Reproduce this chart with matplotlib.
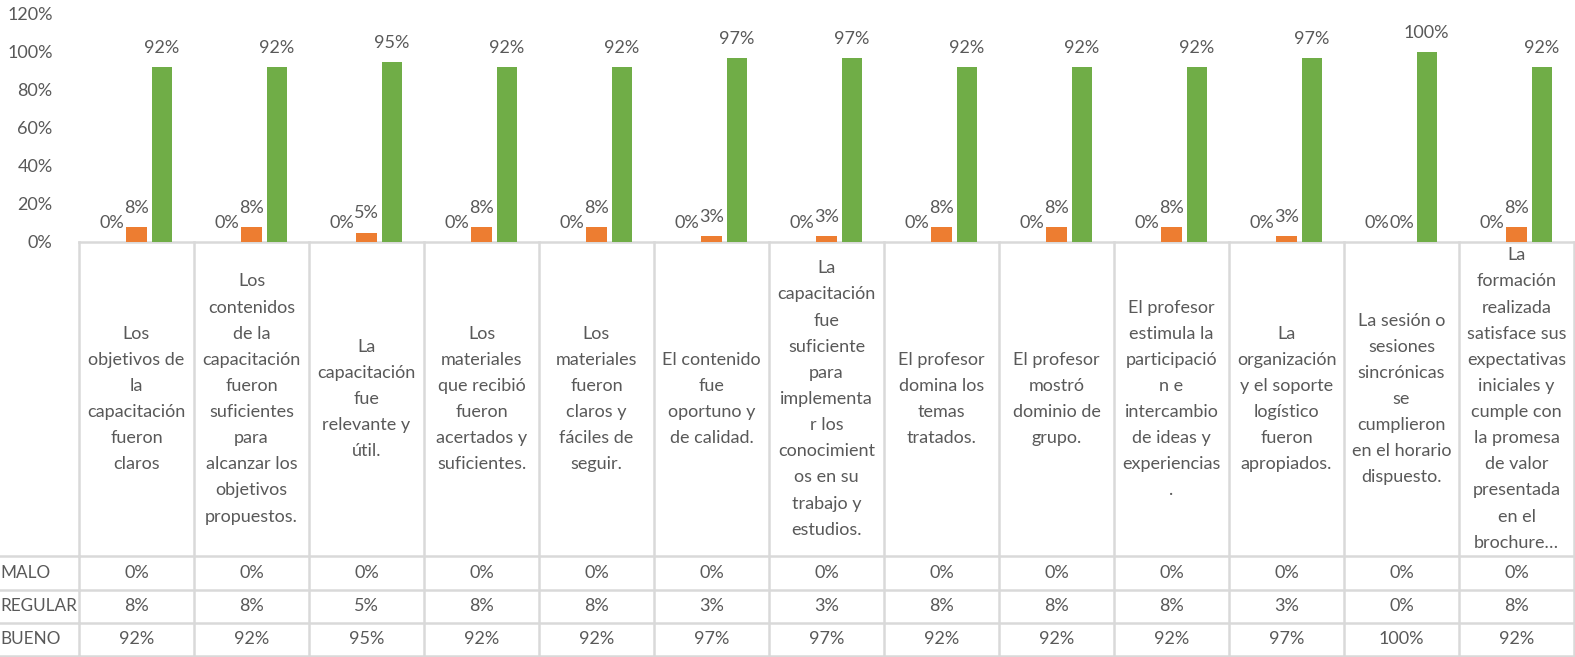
import matplotlib
matplotlib.use("Agg")
import matplotlib.pyplot as plt
from matplotlib.transforms import blended_transform_factory
import numpy as np

categories = [
    "Los\nobjetivos de\nla\ncapacitación\nfueron\nclaros",
    "Los\ncontenidos\nde la\ncapacitación\nfueron\nsuficientes\npara\nalcanzar los\nobjetivos\npropuestos.",
    "La\ncapacitación\nfue\nrelevante y\nútil.",
    "Los\nmateriales\nque recibió\nfueron\nacertados y\nsuficientes.",
    "Los\nmateriales\nfueron\nclaros y\nfáciles de\nseguir.",
    "El contenido\nfue\noportuno y\nde calidad.",
    "La\ncapacitación\nfue\nsuficiente\npara\nimplementa\nr los\nconocimient\nos en su\ntrabajo y\nestudios.",
    "El profesor\ndomina los\ntemas\ntratados.",
    "El profesor\nmostró\ndominio de\ngrupo.",
    "El profesor\nestimula la\nparticipació\nn e\nintercambio\nde ideas y\nexperiencias\n.",
    "La\norganización\ny el soporte\nlogístico\nfueron\napropiados.",
    "La sesión o\nsesiones\nsincrónicas\nse\ncumplieron\nen el horario\ndispuesto.",
    "La\nformación\nrealizada\nsatisface sus\nexpectativas\niniciales y\ncumple con\nla promesa\nde valor\npresentada\nen el\nbrochure…",
]
series_names = ["MALO", "REGULAR", "BUENO"]
malo = [0, 0, 0, 0, 0, 0, 0, 0, 0, 0, 0, 0, 0]
regular = [8, 8, 5, 8, 8, 3, 3, 8, 8, 8, 3, 0, 8]
bueno = [92, 92, 95, 92, 92, 97, 97, 92, 92, 92, 97, 100, 92]
colors = ["#4472C4", "#ED7D31", "#70AD47"]
yticks = [0, 20, 40, 60, 80, 100, 120]

W, H = 1575, 657
FONT = "Lato"
TXT = "#595959"
GRID = "#D9D9D9"
FS = 13

plt.rcParams["font.family"] = [FONT, "DejaVu Sans"]
fig = plt.figure(figsize=(W / 100, H / 100), dpi=100)
x0, x1 = 79, 1574
ytop, ybase = 14, 242
ax = fig.add_axes([x0 / W, 1 - ybase / H, (x1 - x0) / W, (ybase - ytop) / H])

n = len(categories)
x = np.arange(n)
bw = 0.175
off = 0.218
for i, (vals, c) in enumerate(zip([malo, regular, bueno], colors)):
    pos = x + (i - 1) * off
    ax.bar(pos, vals, width=bw, color=c, zorder=3)
    for p, v in zip(pos, vals):
        ax.annotate(f"{v}%", (p, v), xytext=(0, 11), textcoords="offset pixels",
                    ha="center", va="bottom", fontsize=FS, color=TXT)

ax.set_xlim(-0.5, n - 0.5)
ax.set_ylim(0, 120)
ax.set_yticks(yticks)
ax.set_yticklabels([f"{t}%" for t in yticks], fontsize=FS, color=TXT)
ax.tick_params(axis="y", length=0, pad=19)
ax.tick_params(axis="x", length=0, labelbottom=False)
for s in ax.spines.values():
    s.set_visible(False)

# data table
tr = blended_transform_factory(ax.transData, fig.transFigure)
trf = fig.transFigure
def fy(py):
    return 1 - py / H

row_lines = [242, 556, 590, 623, 656]
for py in row_lines:
    ax.add_line(plt.Line2D([-0.5, n - 0.5], [fy(py), fy(py)], transform=tr,
                           color=GRID, lw=1.8, clip_on=False, zorder=1))
for i in range(n + 1):
    ax.add_line(plt.Line2D([i - 0.5, i - 0.5], [fy(242), fy(657)], transform=tr,
                           color=GRID, lw=1.8, clip_on=False, zorder=1))
for py in row_lines[1:]:
    fig.add_artist(plt.Line2D([0, x0 / W], [fy(py), fy(py)], transform=trf,
                              color=GRID, lw=1.8))

for i, cat in enumerate(categories):
    ax.text(i, fy(399), cat, transform=tr, ha="center", va="center",
            fontsize=FS, color=TXT, linespacing=1.78, clip_on=False)

rows_y = [573, 606, 639]
for name, vals, py in zip(series_names, [malo, regular, bueno], rows_y):
    fig.text(0.5 / W, fy(py), name, ha="left", va="center", fontsize=12.3, color=TXT)
    for i, v in enumerate(vals):
        ax.text(i, fy(py), f"{v}%", transform=tr, ha="center", va="center",
                fontsize=FS, color=TXT, clip_on=False)

fig.savefig("out.png", dpi=100)
